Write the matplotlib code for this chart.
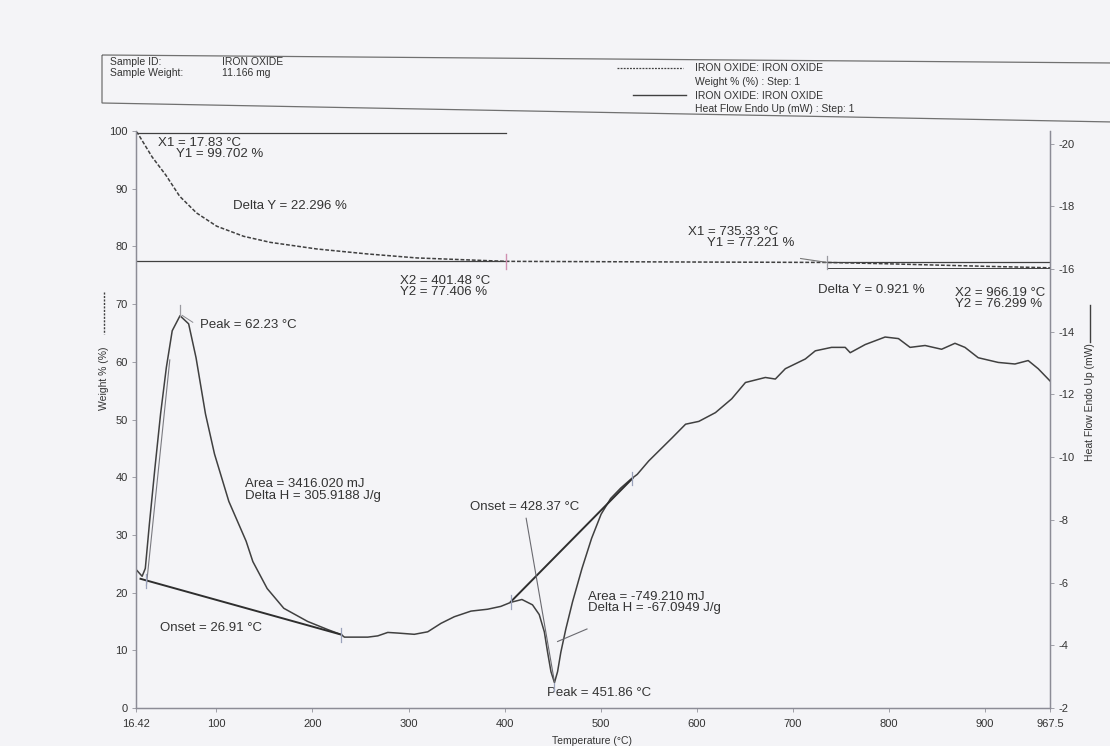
import matplotlib
matplotlib.use('Agg')
import matplotlib.pyplot as plt
from matplotlib.lines import Line2D
from matplotlib.patches import Polygon

plt.rcParams['font.family'] = ['Liberation Sans', 'DejaVu Sans']
plt.rcParams['axes.unicode_minus'] = False

# ---------------- data ----------------
# TGA weight curve (dashed) : temperature (°C) -> weight %
weight_temp = [16.42, 17.83, 33.2, 47.5, 61.8, 79.4, 100.4, 128.4, 156.2, 204.8,
               256.8, 308.8, 401.48, 500, 600, 735.33, 800, 850, 900, 966.19, 967.5]
weight_pct = [99.85, 99.70, 95.5, 92.35, 88.7, 85.8, 83.5, 81.75, 80.7, 79.55,
              78.7, 78.0, 77.41, 77.35, 77.29, 77.22, 76.98, 76.76, 76.55, 76.30, 76.29]

# DSC heat flow curve (solid) : temperature (°C) -> heat flow (mW)
hf_temp = [16.42, 22.8, 26.1, 30.3, 36.1, 42.0, 48.0, 54.1, 62.23, 71.2, 78.9, 88.7,
           98.1, 113.0, 131.0, 138.0, 152.9, 170.2, 195.0, 216.0, 230.0, 233.3, 257.6,
           268.0, 278.4, 288.8, 306.0, 320.0, 333.8, 347.6, 365.0, 382.3, 396.0, 406.5,
           418.0, 429.0, 436.0, 441.3, 444.7, 448.2, 451.86, 455.1, 458.5, 463.7, 470.7,
           480.5, 490.5, 500.4, 510.3, 520.7, 531.1, 538.0, 550.0, 574.1, 588.3, 602.1,
           619.4, 636.3, 650.6, 671.3, 681.7, 692.1, 712.9, 723.3, 740.2, 754.4, 759.6,
           775.2, 795.9, 809.8, 821.9, 837.5, 854.7, 868.6, 879.0, 892.8, 913.6, 931.0,
           944.8, 955.2, 967.5]
hf_mw = [-6.42, -6.20, -6.45, -7.85, -9.65, -11.38, -12.86, -14.03, -14.51, -14.25,
         -13.17, -11.38, -10.10, -8.59, -7.32, -6.67, -5.81, -5.18, -4.76, -4.50, -4.34,
         -4.26, -4.26, -4.30, -4.41, -4.39, -4.35, -4.43, -4.70, -4.91, -5.09, -5.15,
         -5.24, -5.37, -5.46, -5.29, -4.98, -4.43, -3.78, -3.16, -2.81, -3.16, -3.78,
         -4.52, -5.39, -6.45, -7.41, -8.18, -8.68, -9.01, -9.29, -9.45, -9.88, -10.61,
         -11.05, -11.14, -11.42, -11.86, -12.38, -12.54, -12.49, -12.82, -13.13, -13.39,
         -13.50, -13.50, -13.33, -13.59, -13.83, -13.78, -13.50, -13.56, -13.44, -13.63,
         -13.50, -13.17, -13.02, -12.97, -13.08, -12.82, -12.43]

# step analysis results
step1_x = [17.83, 401.48]
step1_y = [99.702, 77.406]
step2_x = [735.33, 966.19]
step2_y = [77.221, 76.299]

# DSC construction lines (temperature, mW)
base1_t, base1_mw = [21.1, 230.0], [-6.12, -4.34]
tang1_t, tang1_mw = [27.3, 51.6], [-5.92, -13.10]
base2_t, base2_mw = [406.5, 533.0], [-5.39, -9.32]
tang2_t, tang2_mw = [422.4, 451.86], [-8.05, -2.83]
cross2_t, cross2_mw = [455.1, 485.7], [-4.12, -4.52]
tick_pts_t = [27.3, 230.0, 406.5, 533.0]
tick_pts_mw = [-6.05, -4.34, -5.37, -9.32]

x_ticks = [16.42, 100, 200, 300, 400, 500, 600, 700, 800, 900, 967.5]
x_tick_labels = ['16.42', '100', '200', '300', '400', '500', '600', '700', '800', '900', '967.5']
y_ticks = [0, 10, 20, 30, 40, 50, 60, 70, 80, 90, 100]
y2_ticks = [-2, -4, -6, -8, -10, -12, -14, -16, -18, -20]

# ---------------- figure ----------------
BG = '#f4f4f7'
INK = '#333333'
LINE = '#404040'
AXC = '#8c8c96'
TICKC = '#9aa2bb'

W, H = 1110, 746
fig = plt.figure(figsize=(11.1, 7.46), dpi=100, facecolor=BG)


def fx(px):
    return px / W


def fy(py):
    return 1 - py / H


ax = fig.add_axes([fx(136), fy(708), (1050 - 136) / W, (708 - 131) / H])
ax.set_facecolor('none')
ax.set_xlim(16.42, 967.5)
ax.set_ylim(0, 100)
ax2 = ax.twinx()
ax2.set_ylim(-2, -20.4)

for a in (ax, ax2):
    a.spines['top'].set_visible(False)
    for s in ('left', 'right', 'bottom'):
        a.spines[s].set_color(AXC)
        a.spines[s].set_linewidth(0.9)

ax.set_xticks(x_ticks)
ax.set_xticklabels(x_tick_labels)
ax.set_yticks(y_ticks)
ax2.set_yticks(y2_ticks)
ax.tick_params(axis='both', direction='out', length=3, width=0.7, color='#a0a0a8',
               labelsize=8, labelcolor=INK, pad=3)
ax.tick_params(axis='x', pad=5)
ax2.tick_params(axis='y', direction='out', length=3, width=0.7, color='#a0a0a8',
                labelsize=8, labelcolor=INK, pad=3)

# weight curve
ax.plot(weight_temp, weight_pct, color=LINE, lw=1.1, ls=(0, (2.5, 1.2)))

# step 1 construction
ax.plot([step1_x[0], step1_x[1]], [step1_y[0], step1_y[0]], color=LINE, lw=0.9)
ax.plot([step1_x[0], step1_x[1]], [step1_y[1], step1_y[1]], color=LINE, lw=0.9)
ax.plot([step1_x[1], step1_x[1]], [step1_y[1] - 1.3, step1_y[1] + 1.3], color='#d08fb0', lw=1.0)
# step 2 construction
ax.plot([step2_x[0], step2_x[1]], [step2_y[0], step2_y[0]], color=LINE, lw=0.9)
ax.plot([step2_x[0], step2_x[1]], [step2_y[1], step2_y[1]], color=LINE, lw=0.7)
ax.plot([step2_x[0], step2_x[0]], [step2_y[0] - 1.2, step2_y[0] + 1.2], color='#9a9aa0', lw=0.9)
ax.plot([708, step2_x[0]], [77.9, step2_y[0]], color='#777777', lw=0.8)

# heat flow curve + constructions
ax2.plot(hf_temp, hf_mw, color=LINE, lw=1.1)
ax2.plot(base1_t, base1_mw, color='#2e2e2e', lw=1.4)
ax2.plot(tang1_t, tang1_mw, color='#7a7a80', lw=0.8)
ax2.plot(base2_t, base2_mw, color='#2e2e2e', lw=1.4)
ax2.plot(tang2_t, tang2_mw, color='#6a6a70', lw=0.8)
ax2.plot(cross2_t, cross2_mw, color='#6a6a70', lw=0.8)
for t, m in zip(tick_pts_t, tick_pts_mw):
    ax2.plot([t, t], [m + 0.22, m - 0.22], color=TICKC, lw=0.9)
ax2.plot([62.23, 62.23], [-14.51, -14.85], color='#9a9aa0', lw=0.9)
ax2.plot([64.5, 75.5], [-14.52, -14.30], color='#8a8a90', lw=0.7)
ax2.plot([451.86, 451.86], [-2.81, -2.55], color=TICKC, lw=0.9)

# annotation texts (placed in temperature / weight-% coordinates)
FS = 9.5
notes = [
    (39.3, 97.9, 'X1 = 17.83 °C'),
    (58.0, 96.0, 'Y1 = 99.702 %'),
    (117.4, 87.0, 'Delta Y = 22.296 %'),
    (291.1, 74.0, 'X2 = 401.48 °C'),
    (291.1, 72.1, 'Y2 = 77.406 %'),
    (83.0, 66.4, 'Peak = 62.23 °C'),
    (129.8, 38.8, 'Area = 3416.020 mJ'),
    (129.8, 36.7, 'Delta H = 305.9188 J/g'),
    (41.4, 13.9, 'Onset = 26.91 °C'),
    (364.0, 34.8, 'Onset = 428.37 °C'),
    (486.8, 19.2, 'Area = -749.210 mJ'),
    (486.8, 17.3, 'Delta H = -67.0949 J/g'),
    (444.1, 2.6, 'Peak = 451.86 °C'),
    (590.8, 82.5, 'X1 = 735.33 °C'),
    (610.6, 80.6, 'Y1 = 77.221 %'),
    (726.1, 72.4, 'Delta Y = 0.921 %'),
    (868.7, 71.9, 'X2 = 966.19 °C'),
    (868.7, 70.0, 'Y2 = 76.299 %'),
]
for t, l, s in notes:
    ax.text(t, l, s, fontsize=FS, color=INK, ha='left', va='center', clip_on=False, zorder=5)

# axis labels
fig.text(fx(592), fy(741), 'Temperature (°C)', ha='center', va='center', fontsize=7.5, color=INK)
fig.text(fx(104), fy(378), 'Weight % (%)', rotation=90, ha='center', va='center', fontsize=7.5, color=INK)
fig.add_artist(Line2D([fx(104), fx(104)], [fy(292), fy(334)], transform=fig.transFigure,
                      color=LINE, lw=1.0, ls=(0, (1.5, 1.0))))
fig.text(fx(1090), fy(402), 'Heat Flow Endo Up (mW)', rotation=90, ha='center', va='center',
         fontsize=7.5, color=INK)
fig.add_artist(Line2D([fx(1090), fx(1090)], [fy(305), fy(342)], transform=fig.transFigure,
                      color=LINE, lw=1.0))

# header box (slightly skewed as on the scanned print-out)
box_px = [(102, 55), (1114, 63), (1114, 122), (102, 103)]
fig.add_artist(Polygon([(fx(x), fy(y)) for x, y in box_px], closed=True,
                       transform=fig.transFigure, fill=False, ec='#707070', lw=0.9))
HFS = 7.5
fig.text(fx(110), fy(62), 'Sample ID:', fontsize=HFS, color=INK, va='center')
fig.text(fx(110), fy(73), 'Sample Weight:', fontsize=HFS, color=INK, va='center')
fig.text(fx(222), fy(62), 'IRON OXIDE', fontsize=HFS, color=INK, va='center')
fig.text(fx(222), fy(73), '11.166 mg', fontsize=HFS, color=INK, va='center')
fig.add_artist(Line2D([fx(617), fx(683)], [fy(68), fy(68)], transform=fig.transFigure,
                      color=LINE, lw=0.9, ls=(0, (1.5, 1.0))))
fig.add_artist(Line2D([fx(633), fx(686)], [fy(95), fy(95)], transform=fig.transFigure,
                      color=LINE, lw=1.0))
fig.text(fx(695), fy(68), 'IRON OXIDE: IRON OXIDE', fontsize=HFS, color=INK, va='center')
fig.text(fx(695), fy(82), 'Weight % (%) : Step: 1', fontsize=HFS, color=INK, va='center')
fig.text(fx(695), fy(96), 'IRON OXIDE: IRON OXIDE', fontsize=HFS, color=INK, va='center')
fig.text(fx(695), fy(109), 'Heat Flow Endo Up (mW) : Step: 1', fontsize=HFS, color=INK, va='center')

fig.savefig('out.png', dpi=100, facecolor=BG)
